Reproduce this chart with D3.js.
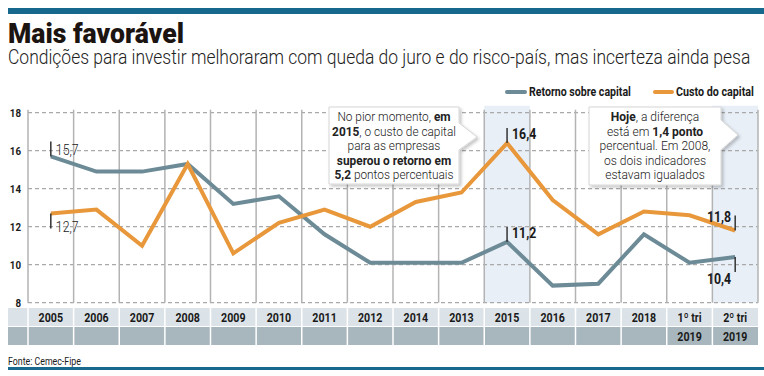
<!DOCTYPE html>
<html>
<head>
<meta charset="utf-8">
<script src="https://cdn.jsdelivr.net/npm/d3@7"></script>
<style>
  body { margin: 0; background: #fff; }
  svg { display: block; font-family: Roboto, "Liberation Sans", sans-serif; }
</style>
</head>
<body>
<div id="grafico"></div>
<script>
// dados
var categorias = ["2005","2006","2007","2008","2009","2010","2011","2012","2014","2013","2015","2016","2017","2018","1º tri","2º tri"];
var categorias2 = ["","","","","","","","","","","","","","","2019","2019"];
var retorno = [15.7,14.9,14.9,15.3,13.2,13.6,11.6,10.1,10.1,10.1,11.2,8.9,9.0,11.6,10.1,10.4];
var custo   = [12.7,12.9,11.0,15.3,10.6,12.2,12.9,12.0,13.3,13.8,16.4,13.4,11.6,12.8,12.6,11.8];
var ticksY = [8,10,12,14,16,18];
var destaques = ["2015","2º tri"];

var width = 764, height = 376;
var corRetorno = "#6c8b97", corCusto = "#e8983b", corBarra = "#16688d";

var svg = d3.select("#grafico").append("svg")
    .attr("width", width)
    .attr("height", height);

var defs = svg.append("defs");
var f = defs.append("filter").attr("id","sombra").attr("x","-10%").attr("y","-10%").attr("width","130%").attr("height","130%");
f.append("feDropShadow").attr("dx",2).attr("dy",2).attr("stdDeviation",1.6).attr("flood-color","#000").attr("flood-opacity",0.22);

var x = d3.scaleBand().domain(categorias).range([28, 758]).padding(0);
var y = d3.scaleLinear().domain([8, 18]).range([302.7, 112.7]);
var cx = function(c) { return x(c) + x.bandwidth() / 2; };

// texto "condensado": escala horizontal
function texto(g, px, py, partes, o) {
    o = o || {};
    var t = g.append("text")
        .attr("transform", "translate(" + px + "," + py + ") scale(" + (o.sx || 0.82) + ",1)")
        .attr("text-anchor", o.anchor || "start")
        .style("font-size", (o.size || 12) + "px")
        .style("font-weight", o.weight || 400)
        .attr("fill", o.fill || "#1a1a1a");
    if (typeof partes === "string") partes = [[partes, o.weight || 400]];
    partes.forEach(function(p) {
        t.append("tspan").style("font-weight", p[1]).text(p[0]);
    });
    return t;
}

// texto ajustado a uma largura
function ajusta(g, px, py, str, larg, o) {
    var t = texto(g, px, py, str, Object.assign({}, o, {sx: 1}));
    var s = larg / t.node().getComputedTextLength();
    t.attr("transform", "translate(" + px + "," + py + ") scale(" + s + ",1)");
    return t;
}

// barras de cima e de baixo
svg.append("rect").attr("x", 8).attr("y", 8).attr("width", width - 8).attr("height", 6).attr("fill", corBarra);
svg.append("rect").attr("x", 8).attr("y", 367).attr("width", width - 8).attr("height", 3).attr("fill", corBarra);

// titulo
ajusta(svg, 8, 43, "Mais favorável", 176, {size: 28, weight: 900, fill: "#1b1410"});
ajusta(svg, 8, 64, "Condições para investir melhoraram com queda do juro e do risco-país, mas incerteza ainda pesa", 743, {size: 20, weight: 300, fill: "#222"});

// legenda
svg.append("rect").attr("x", 505).attr("y", 90).attr("width", 22).attr("height", 4).attr("rx", 2).attr("fill", corRetorno);
ajusta(svg, 529, 96, "Retorno sobre capital", 102, {size: 12.5, weight: 700});
svg.append("rect").attr("x", 653).attr("y", 90).attr("width", 21).attr("height", 4).attr("rx", 2).attr("fill", corCusto);
ajusta(svg, 676, 96, "Custo do capital", 78, {size: 12.5, weight: 700});

// faixas em destaque
svg.selectAll(".faixa").data(destaques).enter().append("rect")
    .attr("class", "faixa")
    .attr("x", function(d) { return x(d); })
    .attr("y", y(18) - 7)
    .attr("width", x.bandwidth())
    .attr("height", y(8) - y(18) + 7)
    .attr("fill", "#e8eff7");

// grade horizontal tracejada
svg.selectAll(".gy").data(ticksY).enter().append("line")
    .attr("x1", 28).attr("x2", 758)
    .attr("y1", function(d) { return y(d); }).attr("y2", function(d) { return y(d); })
    .attr("stroke", "#a9a9a9").attr("stroke-width", 1.3).attr("stroke-dasharray", "4,3");

// grade vertical
var limites = categorias.map(function(c) { return x(c); }).concat([758]);
svg.selectAll(".gx").data(limites).enter().append("line")
    .attr("x1", function(d) { return d; }).attr("x2", function(d) { return d; })
    .attr("y1", y(18) - 3).attr("y2", y(8))
    .attr("stroke", "#b3b3b3").attr("stroke-width", 1.5);

// eixo y
ticksY.forEach(function(t) {
    texto(svg, 21, y(t) + 4, String(t), {anchor: "end", size: 11.5, weight: 700, sx: 0.85});
});

// linhas
var linha = d3.line().x(function(d, i) { return cx(categorias[i]); }).y(function(d) { return y(d); });
svg.append("path").datum(retorno).attr("d", linha)
    .attr("fill", "none").attr("stroke", corRetorno).attr("stroke-width", 4).attr("stroke-linejoin", "miter");
svg.append("path").datum(custo).attr("d", linha)
    .attr("fill", "none").attr("stroke", corCusto).attr("stroke-width", 4).attr("stroke-linejoin", "miter");

// rotulos de valor
var rotulos = [
    {cat: "2005", serie: retorno, dir: -1, txt: "15,7", peso: 300, lado: "dir", dy: -6},
    {cat: "2005", serie: custo, dir: 1, txt: "12,7", peso: 300, lado: "dir", dy: 14},
    {cat: "2015", serie: custo, dir: -1, txt: "16,4", peso: 700, lado: "dir", dy: -9},
    {cat: "2015", serie: retorno, dir: -1, txt: "11,2", peso: 700, lado: "dir", dy: -9},
    {cat: "2º tri", serie: custo, dir: -1, txt: "11,8", peso: 700, lado: "esq", dy: -14},
    {cat: "2º tri", serie: retorno, dir: 1, txt: "10,4", peso: 700, lado: "esq", dy: 22}
];
rotulos.forEach(function(r) {
    var i = categorias.indexOf(r.cat);
    var px = cx(r.cat), py = y(r.serie[i]);
    svg.append("line").attr("x1", px).attr("x2", px)
        .attr("y1", py).attr("y2", py + r.dir * 15)
        .attr("stroke", "#333").attr("stroke-width", 1.5);
    var tx = r.lado == "dir" ? px + 5 : px - 4;
    texto(svg, tx, py + r.dy + 5, r.txt, {anchor: r.lado == "dir" ? "start" : "end", size: 14.5, weight: r.peso, sx: 0.85, fill: "#1a1a1a"});
});

// caixas de anotacao
var caixas = [
    {x0: 329, x1: 459, y0: 107, y1: 184, pa: 123, pb: 150, ponta: [477, 137], larg: 124,
     linhas: [[["No pior momento, ",300],["em",700]],
              [["2015",700],[", o custo de capital",300]],
              [["para as empresas",300]],
              [["superou o retorno em",700]],
              [["5,2",700],[" pontos percentuais",300]]]},
    {x0: 589, x1: 721, y0: 107, y1: 185, pa: 120, pb: 150, ponta: [738, 135], larg: 111,
     linhas: [[["Hoje",700],[", a diferença",300]],
              [["está em ",300],["1,4 ponto",700]],
              [["percentual. Em 2008,",300]],
              [["os dois indicadores",300]],
              [["estavam igualados",300]]]}
];
caixas.forEach(function(c) {
    var caminho = "M" + c.x0 + "," + c.y0 + "H" + c.x1 + "V" + c.pa +
        "L" + c.ponta[0] + "," + c.ponta[1] + "L" + c.x1 + "," + c.pb +
        "V" + c.y1 + "H" + c.x0 + "Z";
    svg.append("path").attr("d", caminho)
        .attr("fill", "#fff").attr("stroke", "#d6d6d6").attr("stroke-width", 1)
        .attr("filter", "url(#sombra)");
    var meio = (c.x0 + c.x1) / 2;
    var g = svg.append("g");
    var ts = c.linhas.map(function(l, k) {
        return texto(g, meio, c.y0 + 14 + k * 14.5, l, {anchor: "middle", size: 12.5, sx: 1, fill: "#222"});
    });
    // ajusta a largura da linha mais larga
    var maior = d3.max(ts, function(t) { return t.node().getComputedTextLength(); });
    var s = c.larg / maior;
    ts.forEach(function(t, k) {
        t.attr("transform", "translate(" + meio + "," + (c.y0 + 14 + k * 14.5) + ") scale(" + s + ",1)");
    });
});

// tabela de categorias
svg.append("rect").attr("x", 8).attr("y", 308).attr("width", 750).attr("height", 18).attr("fill", "#dce3e8");
svg.append("rect").attr("x", 8).attr("y", 327).attr("width", 750).attr("height", 18).attr("fill", "#a8b7be");
svg.selectAll(".sep").data(limites.slice(0, 16)).enter().append("line")
    .attr("x1", function(d) { return d; }).attr("x2", function(d) { return d; })
    .attr("y1", 308).attr("y2", 345)
    .attr("stroke", "#fff").attr("stroke-width", 1.5);
categorias.forEach(function(c, i) {
    texto(svg, cx(c), 322, c, {anchor: "middle", size: 13, weight: 700, sx: 0.82});
    if (categorias2[i]) texto(svg, cx(c), 341, categorias2[i], {anchor: "middle", size: 13, weight: 700, sx: 0.82});
});

// fonte
texto(svg, 8, 365, "Fonte: Cemec-Fipe", {size: 11, weight: 400, sx: 0.8});
</script>
</body>
</html>
